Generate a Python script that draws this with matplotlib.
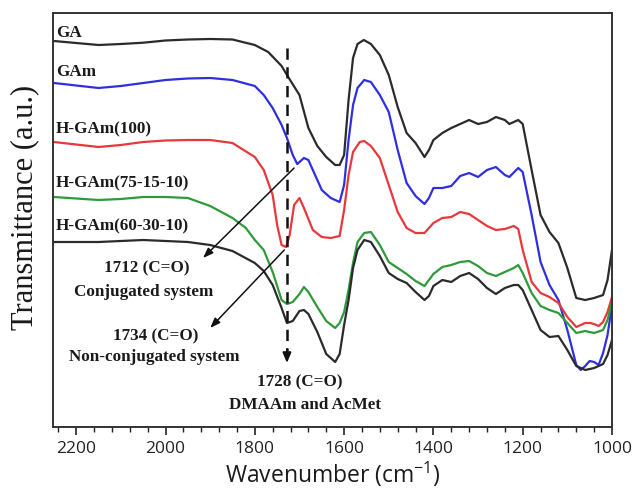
import numpy as np
import matplotlib
matplotlib.use("Agg")
import matplotlib.pyplot as plt
from matplotlib.ticker import MultipleLocator

# ---------------- data (depth below plot top, a.u.) -------------
BASE = 427  # converts "depth" readings into transmittance (a.u.)

w_ga = [2250, 2150, 2100, 2050, 2000, 1950, 1900, 1850, 1800, 1770, 1740, 1728, 1700, 1680,
        1660, 1640, 1620, 1610, 1600, 1590, 1580, 1570, 1556, 1540, 1520, 1500, 1480, 1460,
        1440, 1420, 1410, 1400, 1380, 1360, 1340, 1320, 1300, 1280, 1260, 1240, 1230, 1210,
        1200, 1180, 1160, 1140, 1120, 1100, 1080, 1060, 1040, 1020, 1010, 1000]
d_ga = [41, 45, 44, 42.7, 40.5, 39.5, 39, 39.5, 45, 52, 66, 75, 95, 128,
        146, 157, 165, 165, 155, 100, 58, 44, 40, 44, 55, 75, 107, 133,
        143, 157, 150, 140, 133, 128, 124, 120, 124, 122, 117, 120, 124, 120,
        124, 170, 215, 232, 243, 268, 298, 300, 298, 295, 280, 250]

w_gam = [2250, 2150, 2100, 2050, 2000, 1950, 1900, 1850, 1800, 1780, 1760, 1740, 1728, 1715,
         1705, 1690, 1680, 1670, 1650, 1630, 1610, 1600, 1590, 1580, 1570, 1555, 1540, 1520,
         1500, 1480, 1460, 1440, 1420, 1410, 1400, 1380, 1360, 1340, 1320, 1300, 1280, 1260,
         1240, 1230, 1210, 1200, 1180, 1160, 1140, 1120, 1100, 1080, 1070, 1060, 1050, 1040,
         1030, 1020, 1010, 1000]
d_gam = [83, 88, 86, 83, 80, 78.5, 78, 80, 86, 95, 108, 125, 138, 155,
         164, 158, 160, 170, 190, 198, 202, 185, 140, 105, 88, 80, 82, 95,
         112, 150, 183, 196, 204, 198, 188, 188, 186, 176, 173, 177, 170, 167,
         175, 177, 168, 172, 215, 262, 285, 300, 330, 365, 370, 366, 361, 362,
         365, 353, 335, 305]

w_h100 = [2250, 2150, 2100, 2050, 2000, 1950, 1900, 1850, 1800, 1780, 1760, 1750, 1740, 1730,
          1722, 1712, 1700, 1690, 1670, 1650, 1630, 1610, 1600, 1590, 1580, 1565, 1555, 1540,
          1520, 1500, 1480, 1460, 1440, 1420, 1400, 1380, 1360, 1340, 1320, 1300, 1280, 1260,
          1240, 1220, 1210, 1200, 1180, 1160, 1140, 1120, 1100, 1080, 1060, 1050, 1040, 1030,
          1020, 1010, 1000]
d_h100 = [142, 147, 145, 142, 140.5, 140, 140, 143, 157, 170, 195, 225, 245, 247,
          235, 205, 198, 208, 230, 237, 238, 236, 210, 175, 152, 142, 141, 146,
          158, 185, 212, 228, 233, 233, 223, 218, 217, 212, 214, 220, 226, 230,
          229, 226, 229, 250, 282, 293, 297, 303, 317, 327, 323, 323, 324, 326,
          322, 312, 297]

w_h75 = [2250, 2150, 2100, 2050, 2000, 1950, 1900, 1850, 1820, 1800, 1780, 1760, 1740, 1728,
         1715, 1700, 1690, 1680, 1660, 1640, 1620, 1610, 1600, 1590, 1580, 1570, 1555, 1540,
         1520, 1500, 1480, 1460, 1440, 1420, 1400, 1380, 1360, 1340, 1320, 1300, 1280, 1260,
         1240, 1220, 1210, 1200, 1180, 1160, 1140, 1120, 1100, 1080, 1060, 1040, 1020, 1010,
         1000]
d_h75 = [197, 200, 199, 197, 197, 198, 206, 218, 228, 240, 250, 272, 300, 304,
         302, 294, 287, 292, 307, 321, 328, 323, 312, 290, 263, 242, 233, 232,
         245, 262, 268, 274, 281, 286, 274, 267, 265, 262, 261, 266, 273, 276,
         272, 268, 265, 273, 293, 306, 310, 313, 323, 333, 331, 333, 330, 320,
         302]

w_h60 = [2250, 2150, 2100, 2050, 2000, 1950, 1900, 1850, 1800, 1780, 1760, 1740, 1728, 1715,
         1700, 1690, 1680, 1660, 1640, 1620, 1610, 1600, 1590, 1580, 1570, 1555, 1540, 1520,
         1500, 1480, 1460, 1440, 1420, 1410, 1400, 1380, 1360, 1340, 1320, 1300, 1280, 1260,
         1240, 1220, 1210, 1200, 1180, 1160, 1140, 1120, 1100, 1080, 1060, 1040, 1020, 1010,
         1000]
d_h60 = [242, 242, 241, 240, 241, 242, 245, 251, 263, 271, 285, 308, 323, 321,
         311, 310, 314, 332, 354, 362, 354, 325, 300, 268, 250, 240, 242, 256,
         273, 279, 283, 292, 300, 296, 286, 280, 282, 276, 273, 279, 288, 294,
         288, 285, 285, 290, 310, 330, 337, 336, 350, 366, 370, 368, 364, 355,
         340]

series_names = ["GA", "GAm", "H-GAm(100)", "H-GAm(75-15-10)", "H-GAm(60-30-10)"]
series_colors = ["#2b2b2b", "#2f2fe0", "#e8383b", "#2f9a3a", "#2b2b2b"]
xticks = [2200, 2000, 1800, 1600, 1400, 1200, 1000]

# ---------------- figure -------------
plt.rcParams["mathtext.fontset"] = "custom"
plt.rcParams["mathtext.rm"] = "Open Sans"
plt.rcParams["mathtext.it"] = "Open Sans"

fig = plt.figure(figsize=(6.35, 4.92), dpi=100)
ax = fig.add_axes([53 / 635, 1 - 427 / 492, (612 - 53) / 635, (427 - 13) / 492])

serif = ["Liberation Serif", "DejaVu Serif"]
sans = ["Open Sans", "DejaVu Sans"]

curves = [(w_ga, d_ga), (w_gam, d_gam), (w_h100, d_h100), (w_h75, d_h75), (w_h60, d_h60)]
for (w, d), c in zip(curves, series_colors):
    ax.plot(w, BASE - np.array(d), color=c, lw=1.6, solid_joinstyle="round")

label_t = [394, 355, 298, 244, 201]
for name, t in zip(series_names, label_t):
    ax.text(2245, t, name, family=serif, fontweight="bold", fontsize=12.3,
            ha="left", va="center", color="#1a1a1a")

# dashed marker at 1728
ax.plot([1728, 1728], [379, 76], color="#111111", lw=1.8, ls=(0, (4.5, 3)))
ax.annotate("", xy=(1728, 64), xytext=(1728, 78),
            arrowprops=dict(arrowstyle="-|>,head_length=0.6,head_width=0.25",
                            color="#111111", lw=1.4, shrinkA=0, shrinkB=0))

# arrows to annotations
ax.annotate("", xy=(1916, 169), xytext=(1712, 259),
            arrowprops=dict(arrowstyle="-|>,head_length=0.6,head_width=0.22",
                            color="#111111", lw=1.1, shrinkA=0, shrinkB=0))
ax.annotate("", xy=(1900, 99), xytext=(1734, 177),
            arrowprops=dict(arrowstyle="-|>,head_length=0.6,head_width=0.22",
                            color="#111111", lw=1.1, shrinkA=0, shrinkB=0))

ann = [(2041, 159, "1712 (C=O)"), (2050, 135, "Conjugated system"),
       (2023, 91, "1734 (C=O)"), (2025, 70, "Non-conjugated system"),
       (1699, 45, "1728 (C=O)"), (1687, 22, "DMAAm and AcMet")]
for x, y, s in ann:
    ax.text(x, y, s, family=serif, fontweight="bold", fontsize=12.3,
            ha="center", va="center", color="#1a1a1a")

ax.set_xlim(2252, 1000)
ax.set_ylim(0, 414)
ax.set_xticks(xticks)
ax.set_xticklabels([str(v) for v in xticks], family=sans, fontsize=12.5, color="#222222")
ax.xaxis.set_minor_locator(MultipleLocator(40))
ax.tick_params(axis="x", which="major", direction="out", length=6, width=1.2, pad=4,
               colors="#222222")
ax.tick_params(axis="x", which="minor", direction="out", length=3.5, width=1.0,
               colors="#222222")
ax.set_yticks([])
for sp in ax.spines.values():
    sp.set_linewidth(1.4)
    sp.set_color("#333333")

ax.set_xlabel("Wavenumber (cm$^{-1}$)", family=sans, fontsize=16.5, color="#1a1a1a",
              labelpad=2)
ax.set_ylabel("Transmittance (a.u.)", family=serif, fontsize=22, color="#1a1a1a")
ax.yaxis.set_label_coords(-0.024, 0.53)

fig.savefig("out.png", dpi=100)
